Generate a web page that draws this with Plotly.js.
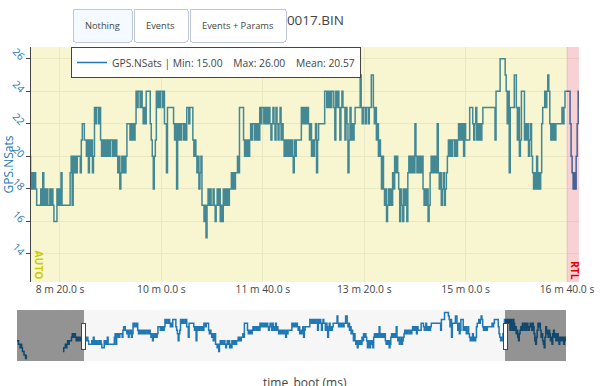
<!DOCTYPE html>
<html>
<head>
<meta charset="utf-8">
<script src="https://cdn.plot.ly/plotly-3.0.1.min.js"></script>
<style>html,body{margin:0;padding:0;background:#fff}#chart{width:600px;height:386px}</style>
</head>
<body>
<div id="chart"></div>
<script>
// GPS.NSats, one sample per second of time_boot, starting at 385 s (null = no data)
const sampleStartMs = 385000;
const sampleStepMs = 1000;
const nsats = [
  18,18,17,17,16,17,16,15,15,14,
  14,13,14,null,null,null,null,null,null,null,
  null,null,null,null,null,null,null,null,null,null,
  null,null,null,null,null,null,null,null,null,null,
  null,null,null,null,null,null,null,null,null,null,
  null,null,null,null,null,null,null,null,null,15,
  16,16,17,16,17,18,17,18,18,18,
  19,20,19,20,20,19,18,19,18,19,
  19,18,19,18,19,20,19,18,19,18,
  19,18,17,17,17,17,18,17,19,17,
  18,17,18,17,17,18,17,18,17,16,
  16,16,18,17,18,17,19,17,17,17,
  17,17,17,17,17,19,20,17,20,19,
  20,19,20,20,20,19,21,22,22,21,
  21,20,21,19,21,20,21,19,20,23,
  22,23,23,22,23,21,20,21,20,21,
  20,21,20,21,20,21,21,20,21,20,
  21,20,19,20,18,19,20,19,20,19,
  20,22,22,22,21,22,21,22,21,22,
  24,23,24,24,23,24,23,22,23,22,
  24,24,24,24,22,21,20,18,20,21,
  24,23,24,23,24,24,23,24,22,22,
  19,23,23,23,23,23,23,22,21,22,
  18,22,21,22,21,22,22,21,22,21,
  23,23,22,23,23,23,21,20,21,20,
  19,20,18,19,20,17,17,16,17,15,
  17,18,17,18,17,17,18,17,16,17,
  18,17,18,16,17,16,18,17,18,17,
  18,17,18,18,19,18,19,18,19,19,
  20,19,23,23,23,23,21,20,21,20,
  21,20,21,22,21,22,22,21,22,21,
  22,21,23,22,23,23,22,23,22,23,
  22,23,22,21,22,23,22,21,23,22,
  21,22,23,21,22,21,20,21,20,21,
  20,21,20,21,20,19,21,20,21,21,
  21,21,21,23,22,23,22,23,22,23,
  22,21,22,20,21,20,21,22,19,21,
  22,22,22,22,22,22,24,24,23,24,
  23,24,23,24,24,23,21,24,23,24,
  23,21,23,24,23,23,21,23,22,19,
  21,23,21,22,21,22,23,23,23,23,
  23,25,23,22,23,23,22,23,23,22,
  23,23,25,25,23,22,23,21,22,20,
  21,20,18,20,18,17,18,16,17,18,
  17,18,17,19,18,20,19,20,19,18,
  16,18,17,16,18,17,18,16,19,20,
  19,20,19,20,19,22,20,19,20,19,
  20,19,20,18,17,18,17,18,16,17,
  19,20,19,20,19,20,19,22,19,18,
  19,17,18,19,17,18,19,20,21,20,
  21,20,21,21,20,21,20,21,22,21,
  22,21,22,20,22,21,21,21,21,23,
  23,23,22,21,22,23,21,22,21,22,
  21,22,23,23,23,23,23,23,23,23,
  23,23,23,23,21,24,24,24,24,26,
  26,26,26,26,25,24,22,24,19,23,
  23,23,23,25,25,23,21,23,20,21,
  24,24,24,21,22,21,22,20,21,22,
  20,19,18,19,18,20,18,19,18,19,
  22,23,23,24,23,24,25,24,22,21,
  22,21,22,21,22,22,22,22,22,22,
  23,22,23,24,24,24,24,24,22,20,
  19,18,19,18,20,22,24,23,24,23,
  24,23,24,21,24,22,21,24,23,21,
  22,20,21,19,18,20,21,22,21,23,
  22,21,23,22,21,23,22,21,22,23,
  22,21,23,22,20,18,17,19,21,23,
  22,23,21,19,20,18,17,16,19,22,
  21,20,19,21,20,18,19,17,20,21,
  19,20,18,19,20,18,17,19,18,19,
  18,19,17,18,19,19
];
const timeBootMs = nsats.map((_, i) => sampleStartMs + i * sampleStepMs);

// flight modes
const modeNames = ['AUTO', 'RTL'];
const modeStartMs = [471400, 999500];
const modeEndMs = [999500, 1011800];
const modeColors = ['rgb(214,212,24)', 'rgb(222,24,40)'];
const modeTextColors = ['rgb(204,204,0)', 'rgb(230,0,0)'];

const viewRangeMs = [471400, 1011800];
const sliderYRange = [12.28, 26.72];
const tickValsMs = [500000, 600000, 700000, 800000, 900000, 1000000];
const tickText = ['8 m 20.0 s', '10 m 0.0 s', '11 m 40.0 s', '13 m 20.0 s', '15 m 0.0 s', '16 m 40.0 s'];
const legendLabel = 'GPS.NSats | Min: 15.00\u00a0\u00a0\u00a0\u00a0Max: 26.00\u00a0\u00a0\u00a0\u00a0Mean: 20.57';
const fileTitle = '00000017.BIN';
const xTitle = 'time_boot (ms)';
const yTitle = 'GPS.NSats';
const buttonLabels = ['Nothing', 'Events', 'Events + Params'];

const blue = '#1f77b4';
const small = 10.3;

// main trace (plot area)
const mainTrace = {
  x: timeBootMs, y: nsats, xaxis: 'x2', yaxis: 'y', type: 'scatter', mode: 'lines',
  name: legendLabel, line: {color: blue, width: 1.5, shape: 'hv'}, connectgaps: false, showlegend: true
};
// same series, drawn by the range slider
const sliderTrace = {
  x: timeBootMs, y: nsats, xaxis: 'x', yaxis: 'y2', type: 'scatter', mode: 'lines',
  name: legendLabel, line: {color: blue, width: 1.5, shape: 'hv'}, connectgaps: false, showlegend: false,
  hoverinfo: 'skip'
};

const shapes = modeNames.map((m, i) => ({
  type: 'rect', xref: 'x2', yref: 'paper', x0: modeStartMs[i], x1: modeEndMs[i], y0: 0, y1: 1,
  fillcolor: modeColors[i], opacity: 0.2, layer: 'above', line: {width: 0}
}));
const annotations = modeNames.map((m, i) => ({
  x: modeStartMs[i], xref: 'x2', y: 0, yref: 'paper', xanchor: 'left', yanchor: 'bottom',
  text: '<b>' + m + '</b>', textangle: 90, showarrow: false,
  font: {color: modeTextColors[i], size: small}
}));
annotations.push({
  text: xTitle, xref: 'paper', yref: 'paper', x: 0.5125, y: -0.4295, xanchor: 'center', yanchor: 'middle',
  showarrow: false, font: {size: 12, color: '#444'}
});

const layout = {
  width: 600, height: 386,
  font: {family: '"Open Sans", verdana, arial, sans-serif', size: small, color: '#444'},
  title: {text: fileTitle, font: {size: 13.5, color: '#444'}, x: 0.5, xref: 'container', y: 0.948, yref: 'container', yanchor: 'middle'},
  margin: {l: 17, r: 21, t: 47, b: 104.3, autoexpand: false},
  paper_bgcolor: '#fff', plot_bgcolor: 'rgba(0,0,0,0)',
  showlegend: true,
  legend: {x: 0.0961, y: 1, xanchor: 'left', yanchor: 'top', bgcolor: '#fff', bordercolor: '#444', borderwidth: 1, font: {size: small}},
  // axis carrying the range slider
  xaxis: {
    domain: [0, 0.9769], anchor: 'y2', range: viewRangeMs,
    showticklabels: false, ticks: 'outside', ticklen: 13, tickcolor: 'rgba(0,0,0,0)', tickvals: tickValsMs,
    showgrid: false, zeroline: false, showline: false,
    title: {text: '', font: {size: 10}},
    rangeslider: {visible: true, thickness: 0.219, bgcolor: '#f6f6f6', yaxis2: {rangemode: 'match'}}
  },
  // axis of the main plot area
  xaxis2: {
    domain: [0.0249, 1], anchor: 'y', range: viewRangeMs, tickvals: tickValsMs, ticktext: tickText,
    tickfont: {size: small}, showgrid: true, gridcolor: '#eee', zeroline: false, ticks: ''
  },
  yaxis: {
    anchor: 'x2', automargin: false, dtick: 2, tickangle: 45, tickfont: {color: blue, size: small},
    title: {text: yTitle, font: {color: blue, size: 12}, standoff: 2},
    ticks: 'outside', ticklen: 4, tickcolor: '#444', showline: true, linecolor: '#444', linewidth: 1,
    gridcolor: '#eee', zeroline: false
  },
  // axis for the slider copy of the series; its own plot strip is a near-zero-height band
  yaxis2: {
    anchor: 'x', domain: [0, 0.0003], range: sliderYRange, fixedrange: true,
    showticklabels: false, showgrid: false, zeroline: false, showline: false, ticks: ''
  },
  shapes: shapes, annotations: annotations,
  updatemenus: [{
    type: 'buttons', direction: 'right', showactive: true, active: 0,
    x: 0.0979, xanchor: 'left', y: 1.166, yanchor: 'top', pad: {t: 0, r: 0, b: 0, l: 0},
    font: {size: 9.3},
    buttons: buttonLabels.map(b => ({label: b, method: 'skip', args: []}))
  }]
};

Plotly.newPlot('chart', [mainTrace, sliderTrace], layout, {displayModeBar: false, responsive: false});
</script>
</body>
</html>
